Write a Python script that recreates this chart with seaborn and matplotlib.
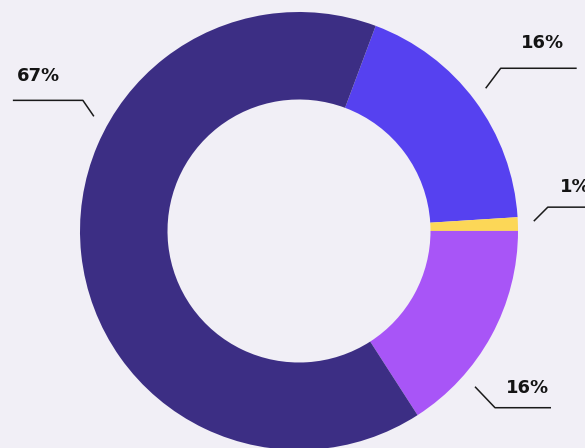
import matplotlib
matplotlib.use("Agg")
import numpy as np
import matplotlib.pyplot as plt
import seaborn as sns

# slices, clockwise from the top boundary
names = ['blue', 'yellow', 'violet', 'dark']
shares = [18.3, 1.0, 15.9, 64.8]
labels = ['16%', '1%', '16%', '67%']
colors = ['#5641f0', '#fcd757', '#a855f7', '#3c2e84']

bg = '#f1eff6'
sns.set_theme(style='white', rc={'figure.facecolor': bg, 'axes.facecolor': bg})
plt.rcParams['font.family'] = ['DejaVu Sans']

fig = plt.figure(figsize=(5.85, 4.48), dpi=100)
ax = fig.add_axes([0, 0, 1, 1])

cx, cy = 299, 217
R = 219
ax.pie(shares, colors=colors, startangle=69.5, counterclock=False,
       radius=R, center=(cx, cy),
       wedgeprops=dict(width=87.5, edgecolor='none', linewidth=0, antialiased=True))

# leader lines: angle on ring, diagonal step, horizontal length, text offset
leaders = {
    '67%': dict(ang=150.8, d=(-11, 16), h=-70, t=(-44, 24)),
    '16%a': dict(ang=37.4, d=(15, 20), h=76, t=(42, 25)),
    '1%': dict(ang=2.4, d=(14, 14), h=60, t=(27, 20)),
    '16%b': dict(ang=-41.5, d=(20, -21), h=56, t=(32, 20)),
}
keys = ['16%a', '1%', '16%b', '67%']
for lab, k in zip(labels, keys):
    p = leaders[k]
    a = np.deg2rad(p['ang'])
    x0, y0 = cx + 235 * np.cos(a), cy + 235 * np.sin(a)
    x1, y1 = x0 + p['d'][0], y0 + p['d'][1]
    x2 = x1 + p['h']
    ax.plot([x0, x1, x2], [y0, y1, y1], color='#1a1a1a', lw=1.1,
            solid_capstyle='butt', clip_on=False)
    ax.text(x1 + p['t'][0], y1 + p['t'][1], lab, ha='center', va='center',
            fontsize=13, fontweight='bold', color='#141414')

ax.set_xlim(0, 585)
ax.set_ylim(0, 448)
ax.set_aspect('equal', adjustable='datalim')
ax.axis('off')

fig.savefig('out.png', dpi=100, facecolor=bg)
